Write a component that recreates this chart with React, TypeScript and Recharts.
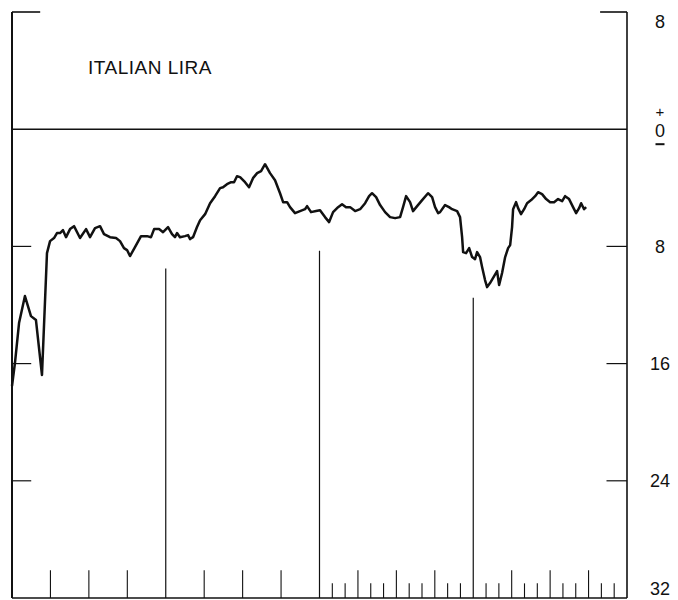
import React from "react"
import { LineChart, Line, XAxis, YAxis, ReferenceLine } from "recharts"

// months since start of the period (4 years = 48 months)
const months = [
  0, 0.23, 0.55, 1.01, 1.48, 1.87, 2.34, 2.73, 2.97, 3.28, 3.51, 3.75, 3.98, 4.22, 4.53, 4.84,
  5.31, 5.78, 6.09, 6.48, 6.87, 7.18, 7.65, 8.12, 8.43, 8.74, 8.98, 9.21, 9.6, 10.07, 10.54,
  10.85, 11.09, 11.48, 11.79, 12.18, 12.49, 12.72, 12.88, 13.11, 13.5, 13.74, 13.9, 14.13,
  14.44, 14.68, 15.07, 15.46, 15.85, 16.24, 16.47, 16.78, 17.1, 17.33, 17.56, 17.8, 18.19,
  18.5, 18.81, 19.13, 19.44, 19.75, 20.14, 20.53, 20.92, 21.16, 21.47, 21.7, 22.09, 22.48,
  22.87, 23.03, 23.34, 23.73, 24.04, 24.43, 24.75, 25.06, 25.45, 25.76, 26.07, 26.39, 26.78,
  27.17, 27.56, 27.87, 28.1, 28.42, 28.73, 29.12, 29.51, 29.9, 30.29, 30.52, 30.76, 31.07,
  31.3, 31.62, 32.01, 32.47, 32.79, 33.02, 33.26, 33.41, 33.8, 34.11, 34.35, 34.74, 34.97,
  35.13, 35.21, 35.44, 35.68, 35.91, 36.14, 36.3, 36.53, 36.69, 36.92, 37.08, 37.31, 37.63,
  37.86, 38.02, 38.25, 38.49, 38.72, 38.88, 39.03, 39.11, 39.34, 39.5, 39.73, 39.97, 40.2,
  40.52, 40.83, 41.06, 41.37, 41.69, 42.0, 42.31, 42.62, 42.94, 43.17, 43.48, 43.79, 44.03,
  44.26, 44.42, 44.65, 44.81,
]

// percent change of the lira (negative = below the zero line)
const liraChange = [
  -17.53, -15.96, -13.23, -11.39, -12.76, -13.03, -16.78, -8.46, -7.64, -7.43, -7.09, -7.09,
  -6.89, -7.37, -6.82, -6.62, -7.43, -6.82, -7.37, -6.75, -6.62, -7.16, -7.37, -7.43, -7.64,
  -8.12, -8.25, -8.66, -8.05, -7.3, -7.3, -7.37, -6.82, -6.82, -7.03, -6.68, -7.16, -7.37,
  -7.09, -7.37, -7.3, -7.23, -7.5, -7.37, -6.68, -6.21, -5.8, -5.05, -4.57, -4.02, -3.96,
  -3.75, -3.62, -3.62, -3.21, -3.27, -3.62, -3.96, -3.34, -3.0, -2.86, -2.39, -3.0, -3.48,
  -4.37, -4.98, -4.98, -5.32, -5.73, -5.59, -5.46, -5.25, -5.66, -5.59, -5.53, -6.0, -6.34,
  -5.66, -5.32, -5.12, -5.32, -5.32, -5.59, -5.46, -5.05, -4.57, -4.37, -4.64, -5.18, -5.66,
  -6.0, -6.07, -6.0, -5.32, -4.57, -4.98, -5.59, -5.25, -4.84, -4.37, -4.64, -5.32, -5.73,
  -5.66, -5.18, -5.32, -5.46, -5.59, -6.0, -7.37, -8.39, -8.46, -8.12, -8.73, -8.87, -8.39,
  -8.73, -9.41, -10.3, -10.78, -10.5, -10.03, -9.69, -10.64, -9.82, -8.73, -8.12, -7.91,
  -6.68, -5.46, -4.98, -5.39, -5.8, -5.46, -5.05, -4.84, -4.57, -4.3, -4.43, -4.77, -4.98,
  -4.98, -4.77, -4.91, -4.57, -4.77, -5.32, -5.73, -5.39, -5.05, -5.46, -5.32,
]

const valueTicks = [8, 0, -8, -16, -24, -32]
const quarterTicks = [3, 6, 9, 15, 18, 21, 27, 30, 33, 39, 42, 45]
const monthTicks = [25, 26, 28, 29, 31, 32, 34, 35, 37, 38, 40, 41, 43, 44, 46, 47]
const yearDividers = [12, 24, 36]
const dividerTops = [-9.5, -8.3, -11.5]

const data = months.map((m, i) => ({ m, v: liraChange[i] }))

const ink = "#111"
const font = '"Liberation Sans", Arial, Helvetica, sans-serif'

const RightTick = (props: any) => {
  const { x, y, payload } = props
  const v = payload.value
  const cx = x + 33
  if (v === 0) {
    return (
      <g fill={ink} fontFamily={font} textAnchor="middle">
        <text x={cx} y={y - 12} fontSize={15}>+</text>
        <text x={cx} y={y + 7.5} fontSize={18}>0</text>
        <rect x={cx - 4.5} y={y + 14} width={9} height={2} />
      </g>
    )
  }
  let dy = 6.5
  if (v === 8) dy += 9
  if (v === -32) dy -= 10
  return (
    <text x={cx} y={y + dy} fill={ink} fontFamily={font} fontSize={18} textAnchor="middle">
      {Math.abs(v)}
    </text>
  )
}

export default function App() {
  return (
    <div style={{ position: "absolute", left: 0, top: 0, width: 678, height: 600, background: "#fff" }}>
      <LineChart width={678} height={600} data={data} margin={{ top: 12, right: 0, bottom: 2, left: 12 }}>
        <XAxis dataKey="m" type="number" domain={[0, 48]} hide />
        <YAxis
          orientation="right"
          type="number"
          domain={[-32, 8]}
          ticks={valueTicks}
          width={51}
          axisLine={false}
          tickLine={false}
          tickSize={0}
          tickMargin={0}
          tick={<RightTick />}
          interval={0}
        />

        {/* frame */}
        <ReferenceLine x={0} stroke={ink} strokeWidth={2} />
        <ReferenceLine x={48} stroke={ink} strokeWidth={1.6} />
        <ReferenceLine y={-32} stroke={ink} strokeWidth={1.6} />
        <ReferenceLine y={0} stroke={ink} strokeWidth={1.4} />
        <ReferenceLine segment={[{ x: 0, y: 8 }, { x: 2.2, y: 8 }]} stroke={ink} strokeWidth={1.6} />
        <ReferenceLine segment={[{ x: 45.9, y: 8 }, { x: 48, y: 8 }]} stroke={ink} strokeWidth={1.6} />

        {/* value ticks on both sides */}
        {valueTicks
          .filter((t) => t < 0 && t > -32)
          .map((t) => (
            <ReferenceLine key={"l" + t} segment={[{ x: 0, y: t }, { x: 1.5, y: t }]} stroke={ink} strokeWidth={1.2} />
          ))}
        {valueTicks
          .filter((t) => t < 0 && t > -32)
          .map((t) => (
            <ReferenceLine key={"r" + t} segment={[{ x: 46.4, y: t }, { x: 48, y: t }]} stroke={ink} strokeWidth={1.2} />
          ))}

        {/* year dividers */}
        {yearDividers.map((m, i) => (
          <ReferenceLine key={"y" + m} segment={[{ x: m, y: dividerTops[i] }, { x: m, y: -32 }]} stroke={ink} strokeWidth={1.2} />
        ))}

        {/* time ticks */}
        {quarterTicks.map((m) => (
          <ReferenceLine key={"q" + m} segment={[{ x: m, y: -32 }, { x: m, y: -30.1 }]} stroke={ink} strokeWidth={1.1} />
        ))}
        {monthTicks.map((m) => (
          <ReferenceLine key={"m" + m} segment={[{ x: m, y: -32 }, { x: m, y: -31 }]} stroke={ink} strokeWidth={1.1} />
        ))}

        <Line
          type="linear"
          dataKey="v"
          stroke={ink}
          strokeWidth={2.5}
          strokeLinejoin="round"
          dot={false}
          isAnimationActive={false}
        />

        <text x={88} y={74} fill={ink} fontFamily={font} fontSize={19} letterSpacing={0.5}>
          ITALIAN LIRA
        </text>
      </LineChart>
    </div>
  )
}
